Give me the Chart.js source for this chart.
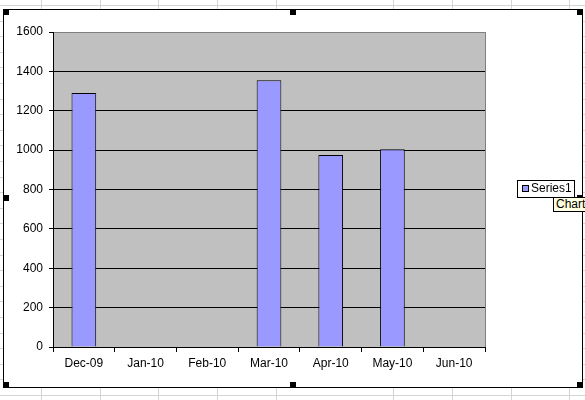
<!DOCTYPE html>
<html>
<head>
<meta charset="utf-8">
<script src="https://cdn.jsdelivr.net/npm/chart.js@4"></script>
<style>
  html, body { margin: 0; padding: 0; }
  body {
    width: 585px; height: 400px; overflow: hidden; position: relative;
    background-color: #fff;
    background-image:
      repeating-linear-gradient(to right, transparent 0, transparent 41px, #d4d4d4 41px, #d4d4d4 42px, transparent 42px, transparent 58.7px),
      repeating-linear-gradient(to bottom, transparent 0, transparent 5px, #d4d4d4 5px, #d4d4d4 6px, transparent 6px, transparent 15.6px);
  }
  #frame {
    position: absolute; left: 3px; top: 9px; width: 580px; height: 379px;
    box-sizing: border-box; border: 1px solid #000; background: #fff;
  }
  #frame canvas { position: absolute; left: 0; top: 0; }
  .handle { position: absolute; width: 6px; height: 6px; background: #000; }
  #tip {
    position: absolute; left: 553px; top: 197px; width: 70px; height: 15px;
    box-sizing: border-box; border: 1px solid #000; background: #ffffe1;
    font: 12px "Liberation Sans", Arial, sans-serif; line-height: 13px;
    padding-left: 2px; white-space: nowrap; overflow: hidden;
  }
</style>
</head>
<body>
<div id="frame"><canvas id="chart" width="578" height="377"></canvas></div>
<div class="handle" style="left:3px;top:9px"></div>
<div class="handle" style="left:290px;top:9px"></div>
<div class="handle" style="left:577px;top:9px"></div>
<div class="handle" style="left:3px;top:195px"></div>
<div class="handle" style="left:577px;top:195px"></div>
<div class="handle" style="left:3px;top:382px"></div>
<div class="handle" style="left:290px;top:382px"></div>
<div class="handle" style="left:577px;top:382px"></div>
<div id="tip">Chart Area</div>
<script>
// data
const months = ['Dec-09', 'Jan-10', 'Feb-10', 'Mar-10', 'Apr-10', 'May-10', 'Jun-10'];
const series1 = [1290, null, null, 1355, 975, 1005, null];
const seriesName = 'Series1';
const yTicks = [0, 200, 400, 600, 800, 1000, 1200, 1400, 1600];

Chart.defaults.font.family = '"Liberation Sans", Arial, sans-serif';
Chart.defaults.font.size = 12;
Chart.defaults.color = '#000';

// grey plot area with grey frame, drawn before the grid
const plotBack = {
  id: 'plotBack',
  beforeDraw(chart) {
    const { ctx, chartArea: a } = chart;
    ctx.save();
    ctx.fillStyle = '#c0c0c0';
    ctx.fillRect(a.left, a.top, a.right - a.left, a.bottom - a.top);
    ctx.strokeStyle = '#808080';
    ctx.lineWidth = 1;
    ctx.strokeRect(a.left + 0.5, a.top + 0.5, a.right - a.left, a.bottom - a.top);
    ctx.restore();
  }
};

// Excel style boxed legend
const boxLegend = {
  id: 'boxLegend',
  afterDraw(chart) {
    const { ctx } = chart;
    const ds = chart.data.datasets[0];
    ctx.save();
    ctx.strokeStyle = '#000';
    ctx.lineWidth = 1;
    ctx.strokeRect(513.5, 170.5, 57, 17);
    ctx.fillStyle = ds.backgroundColor;
    ctx.fillRect(518, 175, 7, 7);
    ctx.strokeRect(518.5, 175.5, 6, 6);
    ctx.fillStyle = '#000';
    ctx.font = '12px "Liberation Sans", Arial, sans-serif';
    ctx.textBaseline = 'middle';
    ctx.fillText(ds.label, 527, 179);
    ctx.restore();
  }
};

new Chart(document.getElementById('chart'), {
  type: 'bar',
  data: {
    labels: months,
    datasets: [{
      label: seriesName,
      data: series1,
      backgroundColor: '#9999ff',
      borderColor: '#000',
      borderWidth: 1,
      barPercentage: 0.4,
      categoryPercentage: 1
    }]
  },
  options: {
    responsive: false,
    animation: false,
    layout: { padding: { top: 22, right: 97, left: 0, bottom: 0 } },
    plugins: {
      legend: { display: false },
      tooltip: { enabled: false }
    },
    scales: {
      x: {
        offset: true,
        grid: { offset: true, drawOnChartArea: false, drawTicks: true, tickLength: 5, color: '#000' },
        border: { color: '#000' },
        ticks: { padding: 4, maxRotation: 0, autoSkip: false },
        afterFit: s => { s.height = 40; }
      },
      y: {
        min: 0,
        max: 1600,
        afterBuildTicks: s => { s.ticks = yTicks.map(v => ({ value: v })); },
        ticks: { padding: 6, callback: v => String(v) },
        grid: {
          color: c => (c.tick && c.tick.value === 1600 ? '#808080' : '#000'),
          tickColor: '#000',
          tickLength: 4
        },
        border: { color: '#000' },
        afterFit: s => { s.width = 49; }
      }
    }
  },
  plugins: [plotBack, boxLegend]
});
</script>
</body>
</html>
